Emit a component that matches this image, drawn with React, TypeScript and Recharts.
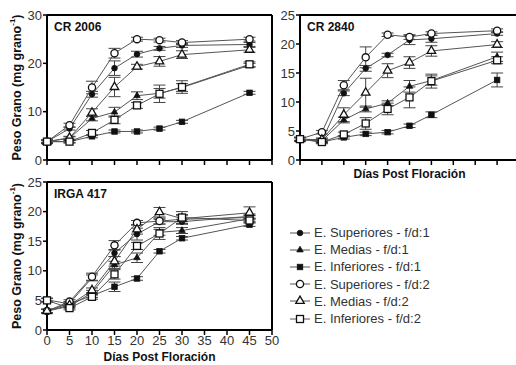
import React from 'react';
import { LineChart, Line, XAxis, YAxis, ErrorBar, ReferenceLine, Label } from 'recharts';

const dias = [0, 5, 10, 15, 20, 25, 30, 45];
const xTicks = [0, 5, 10, 15, 20, 25, 30, 35, 40, 45, 50];

const serieNombres = [
  'E. Superiores - f/d:1',
  'E. Medias - f/d:1',
  'E. Inferiores - f/d:1',
  'E. Superiores - f/d:2',
  'E. Medias - f/d:2',
  'E. Inferiores - f/d:2',
];
const serieClaves = ['sup1', 'med1', 'inf1', 'sup2', 'med2', 'inf2'];
const serieFormas = ['circle', 'triangle', 'square', 'circle', 'triangle', 'square'];
const serieRellenas = [true, true, true, false, false, false];

// CR 2006 (orden: sup1, med1, inf1, sup2, med2, inf2)
const cr2006Valores = [
  [3.8, 6.5, 13.6, 19.0, 21.9, 23.1, 23.7, 23.9],
  [3.8, 4.5, 8.6, 9.9, 13.3, 13.8, 15.0, 19.6],
  [3.8, 3.8, 4.9, 5.9, 5.9, 6.5, 7.9, 13.9],
  [3.8, 7.2, 15.0, 22.1, 25.0, 24.8, 24.3, 25.0],
  [3.8, 4.6, 9.8, 15.1, 19.3, 20.4, 21.8, 22.8],
  [3.8, 3.8, 5.6, 8.3, 11.3, 13.7, 15.1, 19.8],
];
const cr2006Errores = [
  [0.3, 0.3, 0.6, 1.5, 0.6, 0.4, 0.4, 0.4],
  [0.3, 0.3, 0.5, 1.0, 0.8, 1.0, 0.8, 0.4],
  [0.2, 0.2, 0.3, 0.3, 0.3, 0.3, 0.3, 0.3],
  [0.3, 0.4, 1.3, 1.0, 0.4, 0.4, 0.4, 0.4],
  [0.3, 0.3, 0.8, 2.0, 0.5, 1.0, 0.8, 0.5],
  [0.3, 0.3, 0.5, 0.8, 0.6, 1.8, 1.3, 0.5],
];

// CR 2840
const cr2840Valores = [
  [3.6, 3.3, 11.5, 15.8, 18.1, 20.7, 20.9, 21.8],
  [3.6, 3.3, 6.9, 8.8, 9.8, 12.7, 13.7, 17.8],
  [3.6, 3.1, 3.9, 4.5, 4.8, 5.9, 7.8, 13.8],
  [3.6, 4.8, 12.9, 17.7, 21.6, 21.2, 21.8, 22.3],
  [3.6, 3.5, 7.8, 11.6, 15.4, 16.8, 18.8, 19.9],
  [3.6, 3.1, 4.4, 6.3, 8.8, 10.8, 13.6, 17.2],
];
const cr2840Errores = [
  [0.3, 0.3, 0.4, 0.5, 0.3, 0.8, 0.6, 0.3],
  [0.3, 0.3, 0.5, 0.5, 0.4, 1.0, 0.8, 0.8],
  [0.2, 0.2, 0.3, 0.3, 0.3, 0.3, 0.5, 1.2],
  [0.3, 0.3, 0.8, 1.8, 0.3, 0.4, 0.3, 0.3],
  [0.3, 0.3, 1.2, 2.5, 1.2, 1.0, 0.9, 0.5],
  [0.3, 0.3, 0.4, 1.0, 1.0, 1.8, 1.2, 0.6],
];

// IRGA 417
const irga417Valores = [
  [3.2, 4.5, 8.8, 13.0, 16.2, 18.3, 18.3, 19.2],
  [3.2, 4.0, 6.3, 11.0, 12.2, 16.5, 16.8, 18.8],
  [5.1, 4.4, 5.8, 7.3, 8.7, 13.3, 15.5, 17.8],
  [3.2, 4.8, 9.0, 14.3, 18.1, 18.4, 18.7, 19.0],
  [3.2, 4.2, 6.7, 11.6, 17.0, 19.9, 18.8, 19.8],
  [5.0, 3.7, 5.6, 9.4, 14.2, 16.3, 19.0, 18.5],
];
const irga417Errores = [
  [0.3, 0.3, 0.5, 0.6, 1.0, 0.4, 0.4, 0.4],
  [0.3, 0.3, 0.4, 0.6, 0.8, 0.5, 0.5, 0.5],
  [0.3, 0.3, 0.3, 0.8, 0.3, 0.3, 0.3, 0.3],
  [0.3, 0.3, 0.6, 0.8, 0.4, 0.5, 0.8, 0.4],
  [0.3, 0.3, 0.4, 0.8, 0.8, 0.8, 0.5, 1.0],
  [0.3, 0.3, 0.4, 0.8, 0.6, 1.0, 1.0, 0.4],
];

const FONT = '"Liberation Sans", Arial, sans-serif';

function Marker({ cx, cy, forma, rellena }: { cx: number; cy: number; forma: string; rellena: boolean }) {
  if (cx == null || cy == null) return <g />;
  const fill = rellena ? '#111' : '#fff';
  const sw = rellena ? 0.8 : 1.3;
  if (forma === 'circle') {
    return <circle cx={cx} cy={cy} r={rellena ? 2.8 : 3.6} fill={fill} stroke="#111" strokeWidth={sw} />;
  }
  if (forma === 'square') {
    const s = rellena ? 5.5 : 7;
    return <rect x={cx - s / 2} y={cy - s / 2} width={s} height={s} fill={fill} stroke="#111" strokeWidth={sw} />;
  }
  const s = rellena ? 6.5 : 8.5;
  const h = s * 0.87;
  const pts = `${cx},${cy - (2 * h) / 3} ${cx - s / 2},${cy + h / 3} ${cx + s / 2},${cy + h / 3}`;
  return <polygon points={pts} fill={fill} stroke="#111" strokeWidth={sw} />;
}

function YTitle(props: any) {
  const vb = props.viewBox || { x: 0, y: 15, width: 47, height: 145 };
  const x = 17;
  const cy = vb.y + vb.height / 2;
  return (
    <text
      x={x}
      y={cy}
      transform={`rotate(-90, ${x}, ${cy})`}
      textAnchor="middle"
      dominantBaseline="central"
      fontSize={12.5}
      fontWeight="bold"
      fill="#111"
    >
      Peso Grano (mg grano
      <tspan dy={-5} fontSize={8}>-1</tspan>
      <tspan dy={5}>)</tspan>
    </text>
  );
}

interface PanelProps {
  titulo: string;
  valores: number[][];
  errores: number[][];
  yMax: number;
  yTicks: number[];
  width: number;
  height: number;
  right: number;
  yWidth: number;
  xHeight: number;
  xLabels: boolean;
  xTitle: boolean;
  xTitleOffset: number;
  yTitle: boolean;
}

function Panel(p: PanelProps) {
  const data = dias.map((d, i) => {
    const row: any = { dia: d };
    serieClaves.forEach((k, j) => {
      row[k] = p.valores[j][i];
      row[k + 'Err'] = p.errores[j][i];
    });
    return row;
  });

  return (
    <LineChart width={p.width} height={p.height} data={data} margin={{ top: 15, right: p.right, left: 0, bottom: 0 }}>
      <XAxis
        dataKey="dia"
        type="number"
        domain={[0, 50]}
        ticks={xTicks}
        height={p.xHeight}
        axisLine={{ stroke: '#000', strokeWidth: 2 }}
        tickLine={{ stroke: '#000', strokeWidth: 1.5 }}
        tickSize={5}
        tickMargin={1}
        tick={{ fill: '#333', fontSize: 13 }}
        tickFormatter={(v) => (p.xLabels ? String(v) : '')}
        interval={0}
      >
        {p.xTitle && (
          <Label
            value="Días Post Floración"
            position="insideBottom"
            offset={p.xTitleOffset}
            fontSize={12}
            fontWeight="bold"
            fill="#111"
          />
        )}
      </XAxis>
      <YAxis
        type="number"
        domain={[0, p.yMax]}
        ticks={p.yTicks}
        width={p.yWidth}
        axisLine={{ stroke: '#000', strokeWidth: 2 }}
        tickLine={{ stroke: '#000', strokeWidth: 1.5 }}
        tickSize={4}
        tickMargin={1}
        tick={{ fill: '#333', fontSize: 13 }}
        interval={0}
      >
        {p.yTitle && <Label content={YTitle} />}
      </YAxis>
      <ReferenceLine
        y={p.yMax}
        stroke="#000"
        strokeWidth={2}
        label={<Label value={p.titulo} position="insideTopLeft" offset={7} fontSize={12} fontWeight="bold" fill="#111" />}
      />
      <ReferenceLine x={50} stroke="#000" strokeWidth={2} />
      {serieClaves.map((k, j) => (
        <Line
          key={k}
          dataKey={k}
          name={serieNombres[j]}
          stroke="#555"
          strokeWidth={1}
          isAnimationActive={false}
          activeDot={false}
          dot={(d: any) => (
            <Marker key={`${k}-${d.index}`} cx={d.cx} cy={d.cy} forma={serieFormas[j]} rellena={serieRellenas[j]} />
          )}
        >
          <ErrorBar dataKey={k + 'Err'} width={6} stroke="#444" strokeWidth={1} direction="y" />
        </Line>
      ))}
    </LineChart>
  );
}

function Leyenda() {
  return (
    <div style={{ position: 'absolute', left: 290, top: 224 }}>
      {serieNombres.map((n, j) => (
        <div key={n} style={{ display: 'flex', alignItems: 'center', height: 17.2 }}>
          <svg width={22} height={12} style={{ display: 'block' }}>
            <line x1={0} x2={20} y1={6} y2={6} stroke="#555" strokeWidth={1} />
            <Marker cx={10} cy={6} forma={serieFormas[j]} rellena={serieRellenas[j]} />
          </svg>
          <span style={{ marginLeft: 2, fontSize: 13, color: '#333', whiteSpace: 'nowrap' }}>{n}</span>
        </div>
      ))}
    </div>
  );
}

export default function App() {
  return (
    <div
      style={{
        position: 'absolute',
        left: 0,
        top: 0,
        width: 516,
        height: 365,
        overflow: 'hidden',
        background: '#fff',
        fontFamily: FONT,
      }}
    >
      <div style={{ position: 'absolute', left: 0, top: 0 }}>
        <Panel
          titulo="CR 2006"
          valores={cr2006Valores}
          errores={cr2006Errores}
          yMax={30}
          yTicks={[0, 10, 20, 30]}
          width={280}
          height={175}
          right={8}
          yWidth={47}
          xHeight={15}
          xLabels={false}
          xTitle={false}
          xTitleOffset={0}
          yTitle={true}
        />
      </div>
      <div style={{ position: 'absolute', left: 255, top: 0 }}>
        <Panel
          titulo="CR 2840"
          valores={cr2840Valores}
          errores={cr2840Errores}
          yMax={25}
          yTicks={[0, 5, 10, 15, 20, 25]}
          width={270}
          height={186}
          right={6}
          yWidth={45}
          xHeight={26}
          xLabels={false}
          xTitle={true}
          xTitleOffset={8}
          yTitle={false}
        />
      </div>
      <div style={{ position: 'absolute', left: 0, top: 167 }}>
        <Panel
          titulo="IRGA 417"
          valores={irga417Valores}
          errores={irga417Errores}
          yMax={25}
          yTicks={[0, 5, 10, 15, 20, 25]}
          width={280}
          height={198}
          right={8}
          yWidth={47}
          xHeight={35}
          xLabels={true}
          xTitle={true}
          xTitleOffset={4}
          yTitle={true}
        />
      </div>
      <Leyenda />
    </div>
  );
}
